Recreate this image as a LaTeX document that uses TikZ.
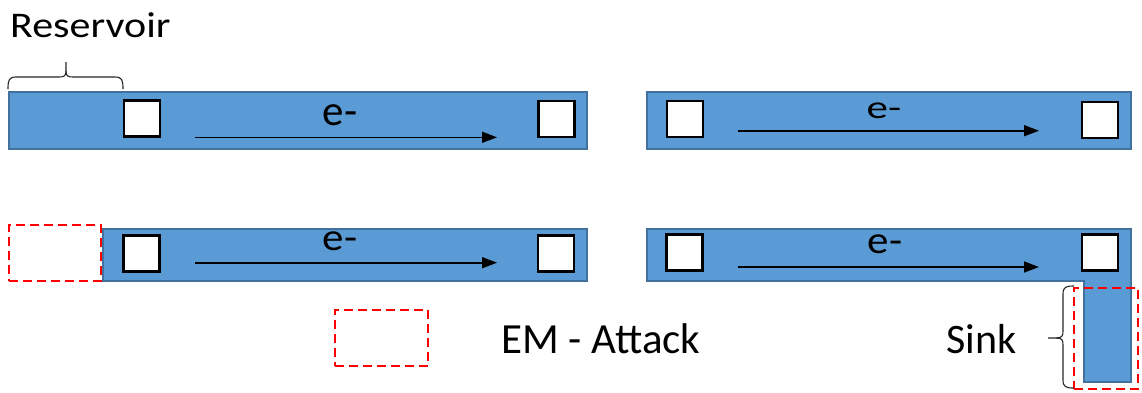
\documentclass[tikz,border=0pt]{standalone}
\usepackage{fontspec}
\setmainfont{Carlito}
\usetikzlibrary{arrows.meta}
\definecolor{barFill}{HTML}{5B9BD5}
\definecolor{barEdge}{HTML}{41719C}
\tikzset{
  bar/.style={draw=barEdge, fill=barFill, line width=2pt, inner sep=0pt},
  cell/.style={draw=black, fill=white, line width=2.5pt, minimum size=36pt, inner sep=0pt},
  attack/.style={draw=red, dash pattern=on 9pt off 5pt, line width=2.3pt},
  flow/.style={-{Triangle[length=15pt,width=11pt]}, line width=1.6pt},
  brace/.style={draw=black!85, line width=1.1pt},
  lbl/.style={font=\fontsize{43}{50}\selectfont, inner sep=0pt, anchor=base}
}
\begin{document}
\begin{tikzpicture}[x=1pt, y=-1pt]
\useasboundingbox (0,0) rectangle (1142,392);

% wire segments
\node[bar, minimum width=578pt, minimum height=57pt] (wireA) at (298,120.5) {};
\node[bar, minimum width=484pt, minimum height=57pt] (wireB) at (889,120.5) {};
\node[bar, minimum width=484pt, minimum height=52pt] (wireC) at (345,255) {};
% last segment with the sink below it
\coordinate (d1) at (647,229);
\coordinate (d2) at (1131,229);
\coordinate (d3) at (1131,382);
\coordinate (d4) at (1084,382);
\coordinate (d5) at (1084,281);
\coordinate (d6) at (647,281);
\draw[bar] (d1) -- (d2) -- (d3) -- (d4) -- (d5) -- (d6) -- cycle;

% vias
\node[cell] (a1) at (142,118.5) {};
\node[cell] (a2) at (556.5,119) {};
\node[cell] (b1) at (685,119) {};
\node[cell] (b2) at (1100,120) {};
\node[cell] (c1) at (141.7,253.3) {};
\node[cell] (c2) at (556,253.3) {};
\node[cell] (e1) at (684.7,252.5) {};
\node[cell] (e2) at (1100,252.5) {};

% electron flow
\coordinate (fa0) at (195,137.3); \coordinate (fa1) at (497,137.3);
\coordinate (fb0) at (738,130.7); \coordinate (fb1) at (1039,130.7);
\coordinate (fc0) at (195,262.7); \coordinate (fc1) at (497,262.7);
\coordinate (fe0) at (738,267);   \coordinate (fe1) at (1039,267);
\draw[flow] (fa0) -- (fa1);
\draw[flow] (fb0) -- (fb1);
\draw[flow] (fc0) -- (fc1);
\draw[flow] (fe0) -- (fe1);

\node[lbl] (ea) at (340,125.7) {e-};
\node[lbl] (eb) at (884,118.3) {\scalebox{1}[0.75]{e-}};
\node[lbl] (ec) at (340,250) {\scalebox{1}[0.9]{e-}};
\node[lbl] (ee) at (885,253) {\scalebox{1}[0.9]{e-}};

% attacked regions
\node[attack, minimum width=92pt, minimum height=56pt, inner sep=0pt] (atkL) at (55,253) {};
\node[attack, minimum width=93pt, minimum height=56pt, inner sep=0pt] (atkEM) at (381.5,338) {};
\node[attack, minimum width=64pt, minimum height=101pt, inner sep=0pt] (atkS) at (1106,338.5) {};

% reservoir brace
\coordinate (rl) at (8,89);
\coordinate (rr) at (123,89);
\coordinate (rt) at (66,62);
\draw[brace] (rl) .. controls (8,80) and (9,77) .. (16,77) -- (59,77)
  .. controls (64,77) and (66,76) .. (66,71) -- (rt);
\draw[brace] (66,71) .. controls (66,76) and (68,77) .. (73,77) -- (115,77)
  .. controls (122,77) and (123,80) .. (rr);

% sink brace
\coordinate (st) at (1074,286);
\coordinate (sb) at (1074,388);
\coordinate (sp) at (1048,338);
\draw[brace] (st) .. controls (1066,286) and (1063,287) .. (1063,294) -- (1063,331)
  .. controls (1063,336) and (1062,338) .. (1056,338) -- (sp);
\draw[brace] (1056,338) .. controls (1062,338) and (1063,340) .. (1063,345) -- (1063,380)
  .. controls (1063,387) and (1066,388) .. (sb);

% labels
\node[lbl, anchor=base west, font=\fontsize{42}{50}\selectfont] (res) at (10,37) {\scalebox{1}[0.86]{Reservoir}};
\node[lbl, anchor=base west] (em) at (501,353.3) {EM - Attack};
\node[lbl, anchor=base west, font=\fontsize{42}{50}\selectfont] (sink) at (946,353.3) {Sink};
\end{tikzpicture}
\end{document}
